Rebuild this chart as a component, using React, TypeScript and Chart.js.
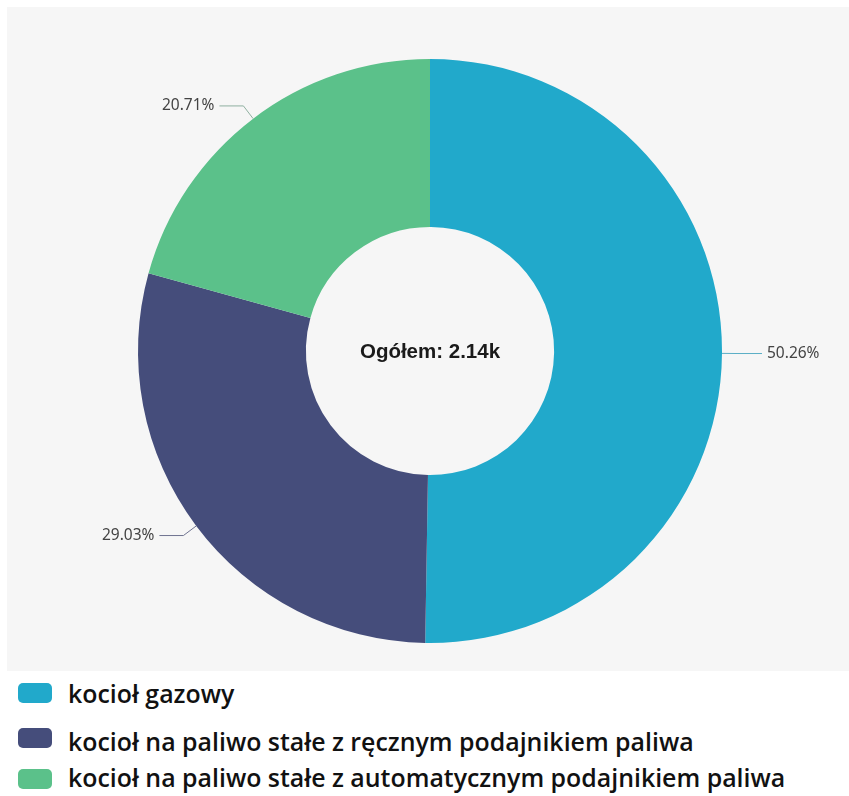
import React, { useEffect, useLayoutEffect, useRef } from "react";
import { Chart, registerables } from "chart.js";

Chart.register(...registerables);

const categories = [
  "kocioł gazowy",
  "kocioł na paliwo stałe z ręcznym podajnikiem paliwa",
  "kocioł na paliwo stałe z automatycznym podajnikiem paliwa",
];
const shares = [50.26, 29.03, 20.71];
const colors = ["#21a9cb", "#454d7b", "#5bc18a"];
const lineColors = ["#5aaec6", "#6f7390", "#8fb0a0"];
const centerLabel = "Ogółem: 2.14k";

const labelPlugin = {
  id: "leaderLabels",
  afterDatasetsDraw(chart: any) {
    const ctx = chart.ctx;
    const meta = chart.getDatasetMeta(0);
    ctx.save();
    meta.data.forEach((arc: any, i: number) => {
      const { x, y, startAngle, endAngle, outerRadius } = arc.getProps(
        ["x", "y", "startAngle", "endAngle", "outerRadius"],
        true
      );
      const mid = (startAngle + endAngle) / 2;
      const c = Math.cos(mid);
      const s = Math.sin(mid);
      const ext = 16;
      const horiz = 24;
      const x0 = x + outerRadius * c;
      const y0 = y + outerRadius * s;
      const x1 = x + (outerRadius + ext) * c;
      const y1 = y + (outerRadius + ext) * s;
      const dir = c >= 0 ? 1 : -1;
      const x2 = x1 + dir * horiz;
      ctx.strokeStyle = lineColors[i];
      ctx.lineWidth = 1;
      ctx.beginPath();
      ctx.moveTo(x0, y0);
      ctx.lineTo(x1, y1);
      ctx.lineTo(x2, y1);
      ctx.stroke();
      ctx.fillStyle = "#444";
      ctx.font = "15.5px 'Noto Sans', 'Open Sans', sans-serif";
      ctx.textBaseline = "middle";
      ctx.textAlign = dir > 0 ? "left" : "right";
      ctx.fillText(shares[i].toFixed(2) + "%", x2 + dir * 5, y1);
    });
    const first = meta.data[0];
    if (first) {
      ctx.fillStyle = "#1a1a1a";
      ctx.font = "bold 20.5px 'Liberation Sans', Arial, sans-serif";
      ctx.textAlign = "center";
      ctx.textBaseline = "middle";
      ctx.fillText(centerLabel, first.x, first.y + 1);
    }
    ctx.restore();
  },
};

export default function App() {
  const canvasRef = useRef<HTMLCanvasElement | null>(null);

  useLayoutEffect(() => {
    document.documentElement.style.overflow = "hidden";
    document.body.style.margin = "0";
    document.body.style.background = "#ffffff";
  }, []);

  useEffect(() => {
    if (!canvasRef.current) return;
    const chart = new Chart(canvasRef.current, {
      type: "doughnut",
      data: {
        labels: categories,
        datasets: [
          {
            data: shares,
            backgroundColor: colors,
            borderWidth: 0,
            hoverOffset: 0,
          },
        ],
      },
      options: {
        animation: false,
        responsive: false,
        maintainAspectRatio: false,
        cutout: "42.5%",
        layout: { padding: { left: 131, right: 127, top: 52, bottom: 28 } },
        plugins: {
          legend: { display: false },
          tooltip: { enabled: false },
        },
        events: [],
      },
      plugins: [labelPlugin],
    });
    return () => chart.destroy();
  }, []);

  const rows = [
    { markerTop: 683, textTop: 681 },
    { markerTop: 728, textTop: 729 },
    { markerTop: 769, textTop: 765 },
  ];

  return (
    <div
      style={{
        position: "relative",
        width: 849,
        height: 796,
        overflow: "hidden",
        background: "#ffffff",
      }}
    >
      <div
        style={{
          position: "absolute",
          left: 7,
          top: 7,
          width: 842,
          height: 664,
          background: "#f6f6f6",
        }}
      >
        <canvas ref={canvasRef} width={842} height={664} style={{ display: "block" }} />
      </div>
      {categories.map((cat, i) => (
        <React.Fragment key={cat}>
          <div
            style={{
              position: "absolute",
              left: 18,
              top: rows[i].markerTop,
              width: 34,
              height: 20,
              borderRadius: 5,
              background: colors[i],
            }}
          />
          <div
            style={{
              position: "absolute",
              left: 68,
              top: rows[i].textTop,
              fontFamily: "'Open Sans', sans-serif",
              fontWeight: 600,
              fontSize: 24.9,
              lineHeight: "25px",
              color: "#111",
              whiteSpace: "nowrap",
            }}
          >
            {cat}
          </div>
        </React.Fragment>
      ))}
    </div>
  );
}
